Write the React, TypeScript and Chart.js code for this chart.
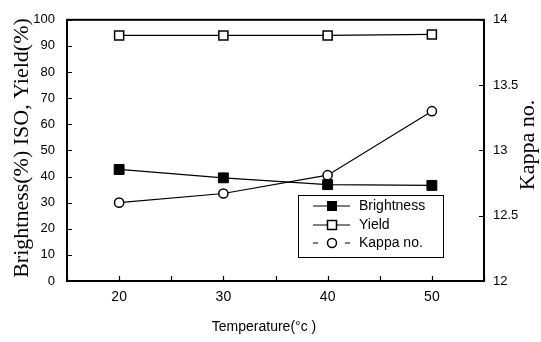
import { useEffect, useRef } from 'react';
import { Chart, registerables } from 'chart.js';

Chart.register(...registerables);

const temperatures = [20, 30, 40, 50];
const brightness = [42.7, 39.5, 36.9, 36.6];
const yieldVals = [94, 94, 94, 94.4];
const kappa = [12.6, 12.67, 12.81, 13.3];

const xTickLabels = [20, 30, 40, 50];
const legendLabels = ['Brightness', 'Yield', 'Kappa no.'];
const leftTitle = 'Brightness(%) ISO, Yield(%)';
const rightTitle = 'Kappa no.';
const xTitle = 'Temperature(°c )';

const SANS = '"Liberation Sans", Arial, Helvetica, sans-serif';
const SERIF = '"Liberation Serif", "Times New Roman", serif';

const decor = {
  id: 'decor',
  afterDraw(chart: any) {
    const { ctx, chartArea: a, scales } = chart;
    ctx.save();
    ctx.strokeStyle = '#000';
    ctx.fillStyle = '#000';
    ctx.lineWidth = 2;
    ctx.strokeRect(a.left, a.top, a.right - a.left, a.bottom - a.top);
    ctx.lineWidth = 1.2;
    const L = 5;
    ctx.beginPath();
    for (const t of scales.y.ticks) {
      const p = Math.round(scales.y.getPixelForValue(t.value)) + 0.5;
      ctx.moveTo(a.left, p);
      ctx.lineTo(a.left + L, p);
    }
    for (const t of scales.y1.ticks) {
      const p = Math.round(scales.y1.getPixelForValue(t.value)) + 0.5;
      ctx.moveTo(a.right, p);
      ctx.lineTo(a.right - L, p);
    }
    for (const t of scales.x.ticks) {
      const p = Math.round(scales.x.getPixelForValue(t.value)) + 0.5;
      ctx.moveTo(p, a.bottom);
      ctx.lineTo(p, a.bottom - L);
    }
    ctx.stroke();

    // legend
    const bx = 298.5, by = 195.5, bw = 145, bh = 62;
    ctx.fillStyle = '#fff';
    ctx.fillRect(bx, by, bw, bh);
    ctx.strokeStyle = '#000';
    ctx.lineWidth = 1;
    ctx.strokeRect(bx, by, bw, bh);
    const rows = [206, 225, 243];
    const lx0 = 313, lx1 = 350, mx = 332;
    ctx.font = `14px ${SANS}`;
    ctx.textBaseline = 'middle';
    ctx.textAlign = 'left';
    rows.forEach((ry, i) => {
      ctx.lineWidth = 1.2;
      ctx.strokeStyle = '#000';
      ctx.beginPath();
      if (i < 2) {
        ctx.moveTo(lx0, ry);
        ctx.lineTo(lx1, ry);
      } else {
        ctx.moveTo(lx0, ry);
        ctx.lineTo(lx0 + 5, ry);
        ctx.moveTo(lx1 - 5, ry);
        ctx.lineTo(lx1, ry);
      }
      ctx.stroke();
      ctx.lineWidth = 1.5;
      if (i === 0) {
        ctx.fillStyle = '#000';
        ctx.fillRect(mx - 5, ry - 5, 10, 10);
      } else if (i === 1) {
        ctx.fillStyle = '#fff';
        ctx.fillRect(mx - 4.5, ry - 4.5, 9, 9);
        ctx.strokeRect(mx - 4.5, ry - 4.5, 9, 9);
      } else {
        ctx.fillStyle = '#fff';
        ctx.beginPath();
        ctx.arc(mx, ry, 4.5, 0, Math.PI * 2);
        ctx.fill();
        ctx.stroke();
      }
      ctx.fillStyle = '#000';
      ctx.fillText(legendLabels[i], 359, ry);
    });

    // titles
    ctx.fillStyle = '#000';
    ctx.textAlign = 'center';
    ctx.textBaseline = 'middle';
    ctx.save();
    ctx.translate(22, 148);
    ctx.rotate(-Math.PI / 2);
    ctx.font = `22px ${SERIF}`;
    ctx.fillText(leftTitle, 0, 0);
    ctx.restore();
    ctx.save();
    ctx.translate(528, 145);
    ctx.rotate(-Math.PI / 2);
    ctx.font = `22px ${SERIF}`;
    ctx.fillText(rightTitle, 0, 0);
    ctx.restore();
    ctx.font = `14px ${SANS}`;
    ctx.fillText(xTitle, 264, 327);
    ctx.restore();
  },
};

export default function App() {
  const ref = useRef<HTMLCanvasElement>(null);
  useEffect(() => {
    if (!ref.current) return;
    const mk = (vals: number[]) => temperatures.map((t, i) => ({ x: t, y: vals[i] }));
    const chart = new Chart(ref.current, {
      type: 'line',
      data: {
        datasets: [
          {
            label: legendLabels[0],
            data: mk(brightness),
            yAxisID: 'y',
            borderColor: '#000',
            borderWidth: 1.2,
            pointStyle: 'rect',
            pointRadius: 7,
            pointBackgroundColor: '#000',
            pointBorderColor: '#000',
            pointBorderWidth: 1,
            tension: 0,
          },
          {
            label: legendLabels[1],
            data: mk(yieldVals),
            yAxisID: 'y',
            borderColor: '#000',
            borderWidth: 1.2,
            pointStyle: 'rect',
            pointRadius: 6.4,
            pointBackgroundColor: '#fff',
            pointBorderColor: '#000',
            pointBorderWidth: 1.5,
            tension: 0,
          },
          {
            label: legendLabels[2],
            data: mk(kappa),
            yAxisID: 'y1',
            borderColor: '#000',
            borderWidth: 1.2,
            pointStyle: 'circle',
            pointRadius: 4.6,
            pointBackgroundColor: '#fff',
            pointBorderColor: '#000',
            pointBorderWidth: 1.5,
            tension: 0,
          },
        ],
      },
      options: {
        responsive: false,
        animation: false,
        events: [],
        layout: { padding: { top: 11, left: 0, right: 0, bottom: 0 } },
        plugins: { legend: { display: false }, tooltip: { enabled: false }, title: { display: false } },
        scales: {
          x: {
            type: 'linear',
            min: 15,
            max: 55,
            grid: { display: false, drawTicks: false },
            border: { display: false },
            ticks: {
              stepSize: 5,
              padding: 8,
              color: '#000',
              font: { family: SANS, size: 14 },
              maxRotation: 0,
              autoSkip: false,
              callback: (v: any) => (xTickLabels.includes(Number(v)) ? String(v) : ''),
            },
            afterFit: (s: any) => {
              s.height = 61;
            },
          },
          y: {
            position: 'left',
            min: 0,
            max: 100,
            grid: { display: false, drawTicks: false },
            border: { display: false },
            ticks: { stepSize: 10, padding: 12, color: '#000', font: { family: SANS, size: 13 } },
            afterFit: (s: any) => {
              s.width = 67;
            },
          },
          y1: {
            position: 'right',
            min: 12,
            max: 14,
            grid: { display: false, drawTicks: false },
            border: { display: false },
            ticks: {
              stepSize: 0.5,
              padding: 9,
              color: '#000',
              font: { family: SANS, size: 13 },
              callback: (v: any) => String(Number(v)),
            },
            afterFit: (s: any) => {
              s.width = 57;
            },
          },
        },
      },
      plugins: [decor],
    });
    return () => chart.destroy();
  }, []);
  return (
    <div style={{ position: 'absolute', left: 0, top: 0, width: 541, height: 342, background: '#fff' }}>
      <canvas ref={ref} width={541} height={342} style={{ display: 'block' }} />
    </div>
  );
}
